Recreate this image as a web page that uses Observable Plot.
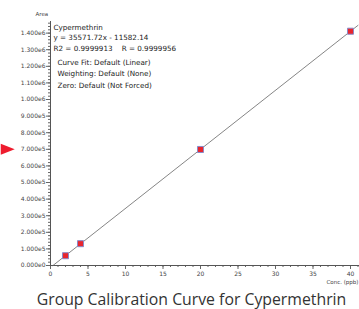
<!DOCTYPE html>
<html>
<head>
<meta charset="utf-8">
<script src="https://cdn.jsdelivr.net/npm/d3@7"></script>
<script src="https://cdn.jsdelivr.net/npm/@observablehq/plot@0.6"></script>
<style>
  html, body { margin: 0; padding: 0; background: #fff; }
  #title { width: 359px; box-sizing: border-box; padding-left: 24px; text-align: center; white-space: nowrap; font-family: "Open Sans", sans-serif; font-size: 15.8px; color: #333; line-height: 20px; height: 20px; }
</style>
</head>
<body>
<div id="chart"></div>
<div id="title">Group Calibration Curve for Cypermethrin</div>
<script>
// Calibration points
const conc = [2, 4, 20, 40];
const area = [59000, 131500, 699000, 1411500];
// Fit line endpoints (from equation shown)
const fitX = [0.33, 41];
const fitY = [0, 1446800];
// Legend text
const headLines = ["Cypermethrin", "y = 35571.72x - 11582.14", "R2 = 0.9999913    R = 0.9999956"];
const infoLines = ["Curve Fit: Default (Linear)", "Weighting: Default (None)", "Zero: Default (Not Forced)"];
// Axis ticks
const xTicks = [0, 5, 10, 15, 20, 25, 30, 35, 40];
const yTicks = [0, 1e5, 2e5, 3e5, 4e5, 5e5, 6e5, 7e5, 8e5, 9e5, 1e6, 1.1e6, 1.2e6, 1.3e6, 1.4e6];
const yMinor = d3.range(0, 1.47e6, 2e4);
const xMinor = d3.range(0, 42, 1);
// Marker arrow pointing at 7.000e5
const markerY = [7e5];

const pts = conc.map((c, i) => ({x: c, y: area[i]}));
const fit = fitX.map((x, i) => ({x, y: fitY[i]}));
const fmt = v => d3.format(".3e")(v).replace("+", "");

const arrowSymbol = {
  draw(ctx) {
    ctx.moveTo(-7, -5.5);
    ctx.lineTo(7, 0);
    ctx.lineTo(-7, 5.5);
    ctx.closePath();
  }
};

const font = "DejaVu Sans, Verdana, sans-serif";
const chart = Plot.plot({
  width: 359,
  height: 289,
  marginLeft: 50,
  marginRight: 0,
  marginTop: 21,
  marginBottom: 24,
  style: {fontFamily: font, background: "#fff"},
  x: {domain: [0, 41.2], label: null},
  y: {domain: [0, 1.47e6], label: null},
  marks: [
    Plot.axisY({ticks: yMinor, tickSize: 2, text: null, stroke: "#666", label: null}),
    Plot.axisY({ticks: yTicks, tickSize: 4, tickFormat: fmt, fontSize: 6, fill: "#444", stroke: "#666", tickPadding: 1, label: null}),
    Plot.axisX({ticks: xMinor, tickSize: 2, text: null, stroke: "#666", label: null}),
    Plot.axisX({ticks: xTicks, tickSize: 4, fontSize: 6, fill: "#444", stroke: "#666", tickPadding: 2, label: null}),
    Plot.ruleX([0], {stroke: "#555"}),
    Plot.ruleY([0], {stroke: "#555"}),
    Plot.text(["Area"], {frameAnchor: "top-left", dx: -15, dy: -9, fontSize: 5.5, fill: "#444"}),
    Plot.text(["Conc. (ppb)"], {frameAnchor: "bottom-right", dx: -1, dy: 18, fontSize: 5.5, fill: "#444", textAnchor: "end"}),
    Plot.line(fit, {x: "x", y: "y", stroke: "#666", strokeWidth: 0.8}),
    Plot.dot(pts, {x: "x", y: "y", symbol: "square", r: 3.4, fill: "#e8262e", stroke: "#8a8ac8", strokeWidth: 1}),
    Plot.dot(markerY, {x: () => -5.7, y: d => d, symbol: arrowSymbol, fill: "#ee1c2e", stroke: "none"}),
    ...headLines.map((t, i) => Plot.text([t], {frameAnchor: "top-left", dx: 3, dy: 3 + i * 10.5, fontSize: 7.2, fill: "#222"})),
    ...infoLines.map((t, i) => Plot.text([t], {frameAnchor: "top-left", dx: 7, dy: 38 + i * 11.5, fontSize: 7.2, fill: "#222"}))
  ]
});
document.getElementById("chart").appendChild(chart);
</script>
</body>
</html>
